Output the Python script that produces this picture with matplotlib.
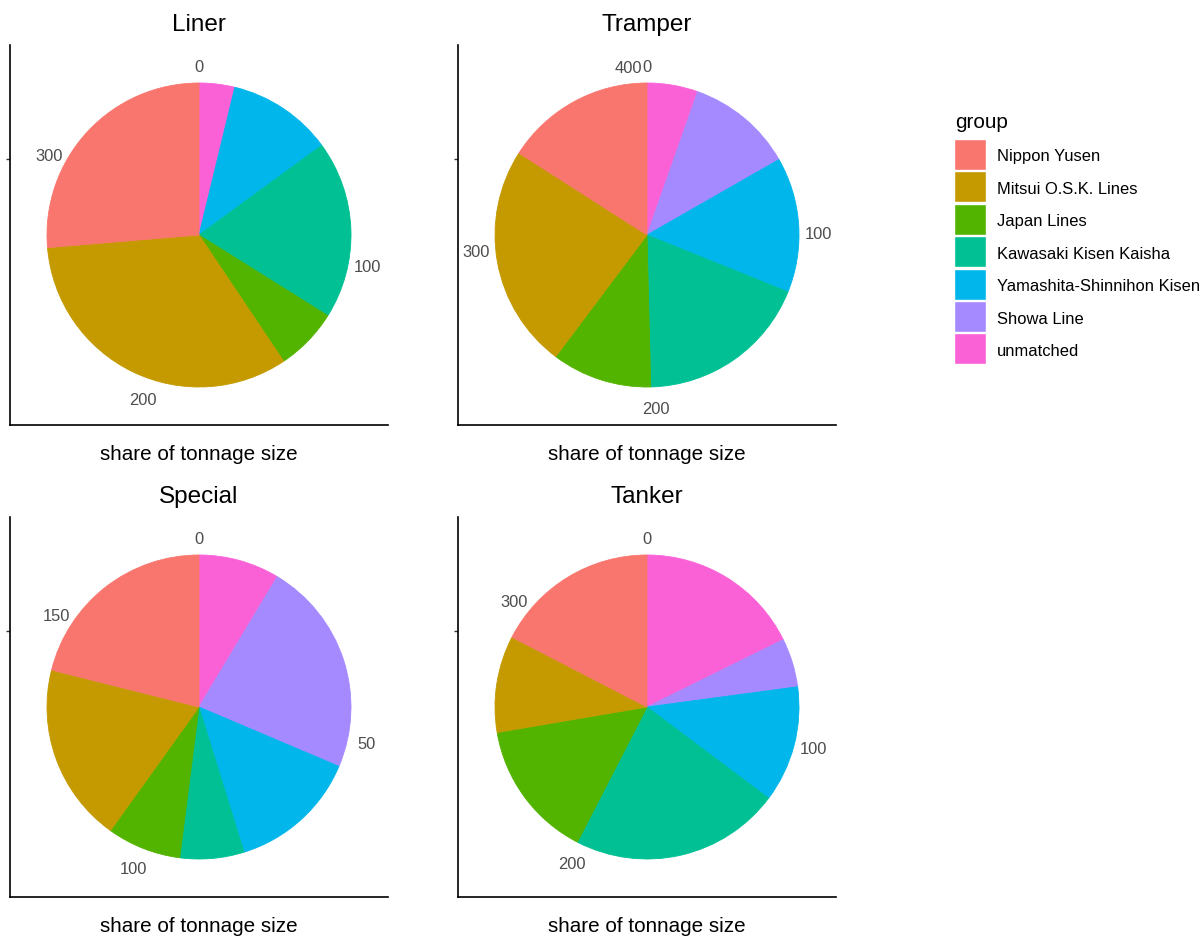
import numpy as np
import matplotlib.pyplot as plt
from matplotlib.patches import Rectangle

plt.rcParams['font.family'] = ['Liberation Sans', 'DejaVu Sans']

W, H = 1203, 937

# ---------------------------------------------------------------
# data (legend order)
# ---------------------------------------------------------------
groups = ["Nippon Yusen", "Mitsui O.S.K. Lines", "Japan Lines",
          "Kawasaki Kisen Kaisha", "Yamashita-Shinnihon Kisen",
          "Showa Line", "unmatched"]
colors = ["#F8766D", "#C49A00", "#53B400", "#00C094", "#00B6EB",
          "#A58AFF", "#FB61D7"]

panels = ["Liner", "Tramper", "Special", "Tanker"]
liner = [95.2, 119.6, 24.2, 68.5, 40.4, 0.0, 13.7]
tramper = [64.9, 96.9, 43.3, 75.3, 58.5, 46.1, 22.0]
special = [37.5, 33.8, 14.0, 12.1, 24.6, 40.5, 15.3]
tanker = [60.8, 35.9, 51.5, 78.0, 43.2, 18.1, 61.8]
values = [liner, tramper, special, tanker]

liner_breaks = [0, 100, 200, 300]
tramper_breaks = [0, 100, 200, 300, 400]
special_breaks = [0, 50, 100, 150]
tanker_breaks = [0, 100, 200, 300]
breaks = [liner_breaks, tramper_breaks, special_breaks, tanker_breaks]

xlabel = "share of tonnage size"

# panel boxes in pixels: left, top, width, height
boxes = [(10, 46, 378, 380), (458, 46, 378, 380),
         (10, 518, 378, 380), (458, 518, 378, 380)]
R = 152        # pie radius (px)
R_LAB = 171    # theta label radius (px)

fig = plt.figure(figsize=(W / 100, H / 100), dpi=100)


def px_axes(left, top, w, h):
    return fig.add_axes([left / W, 1 - (top + h) / H, w / W, h / H])


for name, vals, brk, (left, top, w, h) in zip(panels, values, breaks, boxes):
    ax = px_axes(left, top, w, h)
    # ggplot stacks the last level first when going clockwise from the top
    v = vals[::-1]
    wedges, _ = ax.pie(v, colors=colors[::-1], radius=R, center=(0, 0),
                       startangle=90, counterclock=False, frame=True)
    for wd, val in zip(wedges, v):
        wd.set_edgecolor(wd.get_facecolor())
        wd.set_linewidth(0.6 if val > 0 else 0)

    ax.set_xlim(-w / 2, w / 2)
    ax.set_ylim(-h / 2, h / 2)
    ax.set_aspect('auto')

    total = sum(vals)
    for b in brk:
        ang = np.deg2rad(90 - b / total * 360)
        ax.text(R_LAB * np.cos(ang), R_LAB * np.sin(ang) - 3, str(b),
                ha='center', va='center', fontsize=11.9, color='#4D4D4D',
                clip_on=False)

    for s in ['top', 'right']:
        ax.spines[s].set_visible(False)
    for s in ['left', 'bottom']:
        ax.spines[s].set_linewidth(1.2)
        ax.spines[s].set_color('black')
    ax.set_xticks([])
    ax.set_yticks([R / 2])
    ax.set_yticklabels([])
    ax.tick_params(axis='y', length=3, width=1.0, color='#333333')

    cx = left + w / 2
    fig.text(cx / W, 1 - (top - 21) / H, name, ha='center', va='center',
             fontsize=17.5, color='black')
    fig.text(cx / W, 1 - (top + h + 29) / H, xlabel, ha='center',
             va='center', fontsize=14.9, color='black')

# ---------------------------------------------------------------
# legend
# ---------------------------------------------------------------
fig.text(955 / W, 1 - 123 / H, "group", ha='left', va='center',
         fontsize=14.9, color='black')
key_top = 140
key_step = 32.4
for i, (g, c) in enumerate(zip(groups, colors)):
    y0 = key_top + i * key_step
    fig.patches.append(Rectangle((954 / W, 1 - (y0 + 31) / H), 32 / W, 31 / H,
                                 transform=fig.transFigure, facecolor=c,
                                 edgecolor='white', linewidth=1.0))
    fig.text(997 / W, 1 - (y0 + 17) / H, g, ha='left', va='center',
             fontsize=11.9, color='black')

fig.savefig("out.png", dpi=100)
